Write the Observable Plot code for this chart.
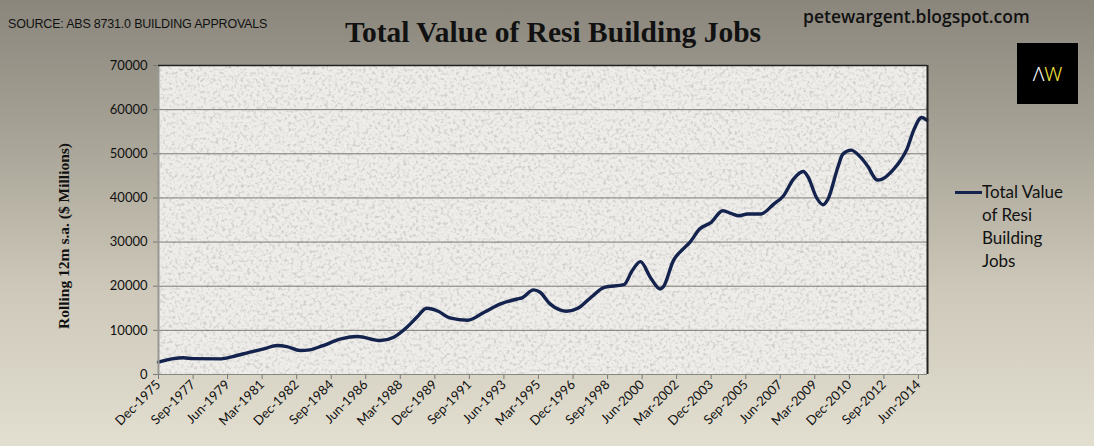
<!DOCTYPE html>
<html><head><meta charset="utf-8">
<script src="https://cdn.jsdelivr.net/npm/d3@7"></script>
<script src="https://cdn.jsdelivr.net/npm/@observablehq/plot@0.6"></script>
<style>
html,body{margin:0;padding:0;}
#wrap{position:relative;width:1094px;height:446px;overflow:hidden;
  background:linear-gradient(180deg,#8a867c 0%,#a6a295 30%,#cdc8b9 65%,#e3dfd0 100%);}
#header{position:relative;height:50px;}
#source{position:absolute;left:8px;top:17px;font-family:"Liberation Sans Narrow","Liberation Sans",Arial,sans-serif;font-size:12.5px;color:#111;letter-spacing:-0.2px;}
#title{position:absolute;left:0;width:1106px;text-align:center;top:16px;font-family:"Liberation Serif","Times New Roman",serif;font-weight:bold;font-size:29.5px;color:#111;}
#site{position:absolute;left:803px;top:4px;font-family:"Open Sans","Noto Sans",sans-serif;font-weight:600;font-size:17.5px;color:#111;}
#logo{position:absolute;left:1017px;top:43px;width:61px;height:61px;background:#000;font-family:"Noto Sans",sans-serif;font-size:20px;text-align:center;line-height:61px;font-weight:300;}
#logo .a{color:#fff;} #logo .w{color:#f0e23c;}
#ylabel{position:absolute;left:64px;top:236px;transform:translate(-50%,-50%) rotate(-90deg);white-space:nowrap;font-family:"Liberation Serif","Times New Roman",serif;font-weight:bold;font-size:15.5px;color:#111;}
#legend{position:absolute;left:955px;top:180px;font-family:"Lato","Open Sans",sans-serif;font-size:17px;line-height:23px;color:#111;}
#legend .sw{position:absolute;left:0;top:11px;width:27px;height:3px;background:#14234d;}
#legend .tx{position:absolute;left:27px;top:0;white-space:nowrap;}
#chart{position:absolute;left:0;top:50px;}
</style></head><body>
<div id="wrap">
  <div id="header">
    <div id="source">SOURCE: ABS 8731.0 BUILDING APPROVALS</div>
    <div id="title">Total Value of Resi Building Jobs</div>
    <div id="site">petewargent.blogspot.com</div>
  </div>
  <div id="logo"><span class="a">Λ</span><span class="w">W</span></div>
  <div id="chart"></div>
  <div id="ylabel">Rolling 12m s.a. ($ Millions)</div>
  <div id="legend"><div class="sw"></div><div class="tx">Total Value<br>of Resi<br>Building<br>Jobs</div></div>
</div>
<script>
const seriesName = "Total Value of Resi Building Jobs";
const months = ["1975-12","1976-09","1977-03","1977-09","1979-02","1979-10","1980-07","1981-04","1981-12","1982-06",
"1983-02","1983-08","1984-04","1985-03","1986-01","1987-03","1987-11","1988-07","1989-01","1989-07",
"1990-02","1990-09","1991-08","1992-06","1993-04","1994-02","1994-05","1994-12","1995-04","1995-10",
"1996-04","1996-08","1997-03","1997-11","1998-07","1999-07","1999-12","2000-05","2000-11","2001-05",
"2001-07","2002-01","2002-07","2002-11","2003-05","2003-12","2004-07","2004-12","2005-05","2005-10",
"2006-06","2007-02","2007-08","2008-02","2008-08","2008-11","2009-04","2009-08","2009-11","2010-05",
"2010-08","2011-01","2011-07","2011-11","2012-05","2012-08","2013-03","2013-07","2013-11","2014-03",
"2014-08","2014-11"];
const values = [2800,3600,3780,3600,3550,4140,5000,5800,6560,6330,
5430,5580,6560,8070,8600,7690,8450,10700,12960,15000,
14330,12820,12300,14100,16000,17100,17350,19160,18630,16000,
14640,14330,15000,17500,19760,20360,23530,25560,22000,19380,
19900,25800,28440,29940,32960,34460,37100,36500,35970,36350,
36350,38600,40500,44270,45990,44630,40100,38460,39750,46900,
49900,50830,49170,47280,44050,44270,46540,48420,51070,55200,
58220,57620];
const tickLabels = ["Dec-1975","Sep-1977","Jun-1979","Mar-1981","Dec-1982","Sep-1984","Jun-1986","Mar-1988",
"Dec-1989","Sep-1991","Jun-1993","Mar-1995","Dec-1996","Sep-1998","Jun-2000","Mar-2002","Dec-2003",
"Sep-2005","Jun-2007","Mar-2009","Dec-2010","Sep-2012","Jun-2014"];
const yTicks = [0,10000,20000,30000,40000,50000,60000,70000];

const parseM = d3.utcParse("%Y-%m");
const parseL = d3.utcParse("%b-%Y");
const data = months.map((m,i)=>({date:parseM(m), value:values[i], series:seriesName}));
const tickDates = tickLabels.map(parseL);
const fmt = d3.utcFormat("%b-%Y");
const xEnd = new Date(Date.UTC(2014,10,16));

const chart = Plot.plot({
  width:1094, height:396,
  marginTop:15, marginBottom:72, marginLeft:158, marginRight:167,
  style:{background:"transparent", fontFamily:"Lato, 'Open Sans', sans-serif", fontSize:"12px", color:"#111"},
  x:{type:"utc", domain:[parseM("1975-12"), xEnd]},
  y:{domain:[0,70000]},
  marks:[
    Plot.frame({fill:"#eeedea", stroke:null}),
    Plot.frame({fill:"#9a9893", fillOpacity:0, stroke:null}),
    Plot.gridY(yTicks, {stroke:"#7d7b77", strokeOpacity:1, strokeWidth:1}),
    Plot.line(data, {x:"date", y:"value", stroke:"#14234d", strokeWidth:3.4, curve:"monotone-x", strokeLinejoin:"round"}),
    Plot.axisY(yTicks, {tickSize:5, tickPadding:6, tickFormat:d=>String(d), label:null, stroke:"#777", fontSize:13}),
    Plot.axisX(tickDates, {tickSize:5, tickPadding:3, tickRotate:-45, tickFormat:fmt, label:null, stroke:"#777", fontSize:13}),
    Plot.ruleX([parseM("1975-12")], {stroke:"#9a9893", strokeWidth:2}),
    Plot.ruleY([0], {stroke:"#8a8884"}),
    Plot.ruleY([70000], {stroke:"#222", strokeWidth:1.5}),
    Plot.ruleX([xEnd], {stroke:"#222", strokeWidth:2})
  ]
});
// speckled paper texture on the plot area (second frame)
const svg = d3.select(chart);
const defs = svg.insert("defs", ":first-child");
const f = defs.append("filter").attr("id","speckle").attr("x",0).attr("y",0).attr("width","100%").attr("height","100%");
f.append("feTurbulence").attr("type","fractalNoise").attr("baseFrequency",0.32).attr("numOctaves",3).attr("seed",7).attr("result","n");
f.append("feColorMatrix").attr("in","n").attr("type","matrix")
  .attr("values","0 0 0 0 0  0 0 0 0 0  0 0 0 0 0  3 0 0 0 -1.45").attr("result","a");
f.append("feComposite").attr("in","SourceGraphic").attr("in2","a").attr("operator","in");
const frameRects = Array.from(chart.querySelectorAll("rect")).filter(r => r.getAttribute("aria-label")==="frame" || (r.parentNode && r.parentNode.getAttribute && r.parentNode.getAttribute("aria-label")==="frame"));
if (frameRects.length > 1) {
  d3.select(frameRects[1]).attr("filter","url(#speckle)").attr("fill-opacity",0.4);
}
document.getElementById("chart").appendChild(chart);
</script>
</body></html>
